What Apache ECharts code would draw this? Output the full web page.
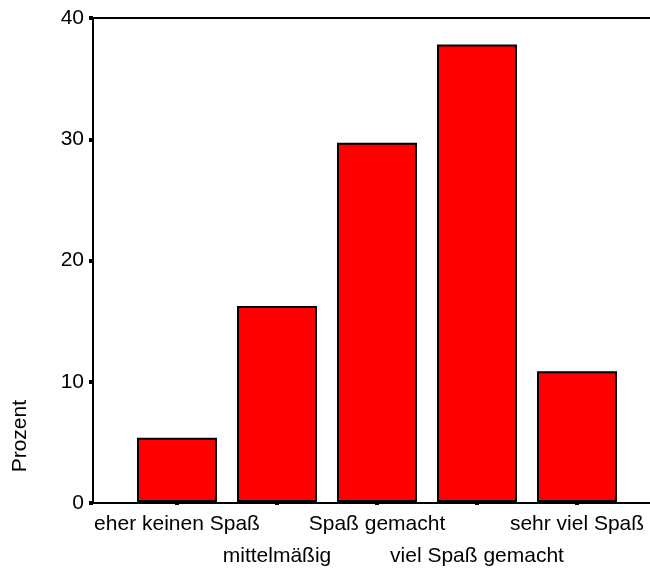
<!DOCTYPE html>
<html>
<head>
<meta charset="utf-8">
<script src="https://cdn.jsdelivr.net/npm/echarts@6/dist/echarts.min.js"></script>
<style>html,body{margin:0;padding:0;background:#fff;}#c{width:650px;height:572px;}</style>
</head>
<body>
<div id="c"></div>
<script>
const categories = ['eher keinen Spaß', 'mittelmäßig', 'Spaß gemacht', 'viel Spaß gemacht', 'sehr viel Spaß'];
const percentValues = [5.3, 16.2, 29.7, 37.8, 10.8];
const yTicks = [0, 10, 20, 30, 40];
const yAxisTitle = 'Prozent';

const FONT = 'Liberation Sans, Arial, Helvetica, sans-serif';
const chart = echarts.init(document.getElementById('c'), null, {renderer: 'canvas'});
chart.setOption({
  animation: false,
  backgroundColor: '#ffffff',
  grid: [
    {left: 93, right: 0, top: 18, bottom: 69},
    {left: 127, right: 23, top: 18, bottom: 69}
  ],
  xAxis: [
    {gridIndex: 0, type: 'value', min: 0, max: 1, position: 'bottom',
     axisLine: {show: true, lineStyle: {color: '#000', width: 2}},
     axisTick: {show: false}, axisLabel: {show: false}, splitLine: {show: false}},
    {gridIndex: 0, type: 'value', min: 0, max: 1, position: 'top',
     axisLine: {show: true, lineStyle: {color: '#000', width: 2}},
     axisTick: {show: false}, axisLabel: {show: false}, splitLine: {show: false}},
    {gridIndex: 1, type: 'category', data: categories, position: 'bottom',
     axisLine: {show: false},
     axisTick: {show: true, alignWithLabel: true, length: 3, lineStyle: {color: '#000', width: 4}},
     axisLabel: {interval: 0, margin: 6, fontFamily: FONT, fontSize: 21, color: '#000', lineHeight: 32,
       formatter: function (v, i) { return i % 2 ? '\n' + v : v; }},
     splitLine: {show: false}}
  ],
  yAxis: [
    {gridIndex: 0, type: 'value', min: yTicks[0], max: yTicks[yTicks.length - 1], interval: 10,
     axisLine: {show: true, lineStyle: {color: '#000', width: 2}},
     axisTick: {show: true, length: 4, lineStyle: {color: '#000', width: 4}},
     axisLabel: {margin: 9, fontFamily: FONT, fontSize: 21, color: '#000'},
     splitLine: {show: false}},
    {gridIndex: 1, type: 'value', min: yTicks[0], max: yTicks[yTicks.length - 1], interval: 10, show: false}
  ],
  graphic: [{
    type: 'text', left: 10, top: 400,
    rotation: Math.PI / 2,
    style: {text: yAxisTitle, font: '21px ' + FONT, fill: '#000'}
  }],
  series: [{
    type: 'bar', xAxisIndex: 2, yAxisIndex: 1,
    data: percentValues, barWidth: 80,
    itemStyle: {color: '#ff0000', borderColor: '#000', borderWidth: 2}
  }]
});
</script>
</body>
</html>
